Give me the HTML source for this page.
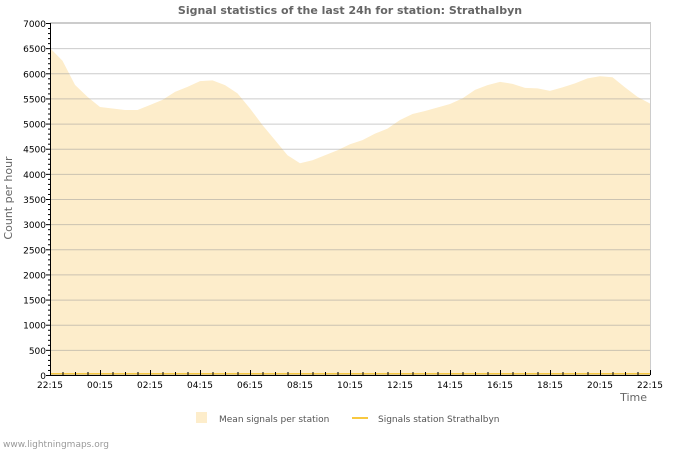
<!DOCTYPE html>
<html><head><meta charset="utf-8"><style>
body{margin:0;background:#fff;}
svg{display:block;font-family:"DejaVu Sans","Liberation Sans",sans-serif;}
</style></head><body>
<svg id="chart" width="700" height="450" viewBox="0 0 700 450" xmlns="http://www.w3.org/2000/svg">
<text x="350" y="14" text-anchor="middle" font-size="11" font-weight="bold" fill="#666">Signal statistics of the last 24h for station: Strathalbyn</text>
<g id="area"></g>
<g id="grid"></g>
<rect x="50.5" y="22.5" width="600" height="352.5" fill="none" stroke="#ccc"/>
<g id="axes"></g>
<text transform="translate(12,198) rotate(-90)" text-anchor="middle" font-size="11" fill="#666">Count per hour</text>
<text x="647" y="401" text-anchor="end" font-size="11" fill="#666">Time</text>
<g>
<rect x="196" y="412" width="11" height="11" fill="#fdedcb"/>
<text x="219" y="422" font-size="9" fill="#555">Mean signals per station</text>
</g>
<g>
<rect x="352" y="417" width="16" height="2" fill="#f8c840"/>
<text x="378" y="422" font-size="9" fill="#555">Signals station Strathalbyn</text>
</g>
<text x="3" y="447" font-size="9" fill="#999">www.lightningmaps.org</text>
</svg>
<script>
const xLabels=["22:15","00:15","02:15","04:15","06:15","08:15","10:15","12:15","14:15","16:15","18:15","20:15","22:15"];
const yTicks=[0,500,1000,1500,2000,2500,3000,3500,4000,4500,5000,5500,6000,6500,7000];
const meanValues=[6500,6250,5770,5530,5330,5300,5270,5270,5370,5470,5630,5730,5845,5860,5765,5600,5300,4970,4670,4370,4210,4270,4370,4470,4590,4670,4800,4900,5070,5190,5250,5320,5390,5500,5670,5765,5830,5790,5710,5700,5650,5720,5800,5900,5940,5920,5720,5530,5400];
const stationValues=[0,0,0,0,0,0,0,0,0,0,0,0,0,0,0,0,0,0,0,0,0,0,0,0,0,0,0,0,0,0,0,0,0,0,0,0,0,0,0,0,0,0,0,0,0,0,0,0,0];
const NS="http://www.w3.org/2000/svg";
const X0=50,X1=650,Y0=375,Y1=23,YMAX=7000;
const xs=i=>X0+(X1-X0)*i/(meanValues.length-1);
const ys=v=>Y0-(Y0-Y1)*v/YMAX;
function mk(t,a,p){const e=document.createElementNS(NS,t);for(const k in a)e.setAttribute(k,a[k]);p.appendChild(e);return e;}
const grid=document.getElementById('grid'),area=document.getElementById('area'),axes=document.getElementById('axes');
yTicks.forEach(v=>{if(v===0)return;const l=mk('line',{x1:X0,x2:X1,y1:ys(v)+.5,y2:ys(v)+.5,stroke:'#999','stroke-opacity':0.5},grid);

});
let d='M'+X0+','+Y0;
meanValues.forEach((v,i)=>{d+=' L'+xs(i)+','+ys(v);});
d+=' L'+X1+','+Y0+' Z';
const p=mk('path',{d:d,fill:'#fdedcb'},area);


let d2='';stationValues.forEach((v,i)=>{d2+=(i?' L':'M')+xs(i)+','+(ys(v)-1);});
const sl=mk('path',{d:d2,fill:'none',stroke:'#f8c840','stroke-width':2},area);


mk('line',{x1:X0+.5,x2:X0+.5,y1:Y1,y2:Y0,stroke:'#000'},axes);
mk('line',{x1:X0,x2:X1,y1:Y0+.5,y2:Y0+.5,stroke:'#000'},axes);
for(let v=0;v<=YMAX;v+=100){const major=v%500===0;mk('line',{x1:X0-(major?4:2),x2:X0+1,y1:ys(v)+.5,y2:ys(v)+.5,stroke:'#000'},axes);}
yTicks.forEach(v=>{const t=mk('text',{x:X0-4,y:ys(v)+4,'text-anchor':'end','font-size':9,fill:'#000'},axes);t.textContent=v;

});
for(let i=0;i<=48;i++){const x=X0+(X1-X0)*i/48+.5;const major=i%4===0;mk('line',{x1:x,x2:x,y1:Y0-(major?5:3),y2:Y0,stroke:'#000'},axes);}
xLabels.forEach((s,i)=>{const t=mk('text',{x:X0+(X1-X0)*i/(xLabels.length-1),y:388,'text-anchor':'middle','font-size':9,fill:'#000'},axes);t.textContent=s;

});
</script>
</body></html>
